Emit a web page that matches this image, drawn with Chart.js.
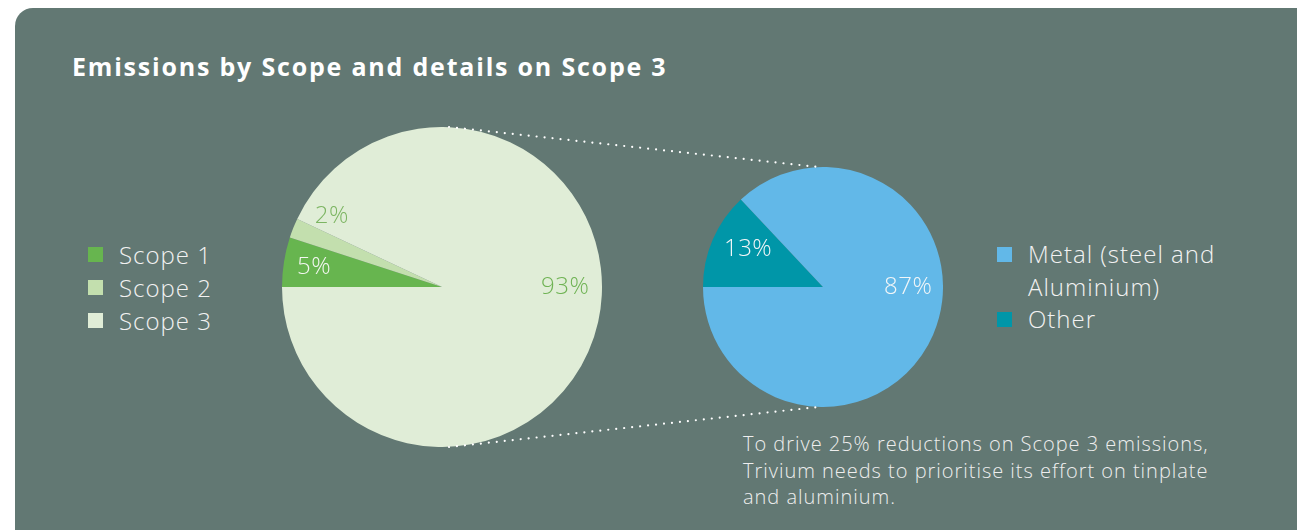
<!DOCTYPE html>
<html>
<head>
<meta charset="utf-8">
<script src="https://cdn.jsdelivr.net/npm/chart.js@4.4.1/dist/chart.umd.min.js"></script>
<style>
  html, body { margin:0; padding:0; background:#ffffff; width:1297px; height:530px; overflow:hidden; }
  #panel { position:absolute; left:15px; top:8px; width:1300px; height:540px; background:#627873; border-radius:18px; }
  #title { position:absolute; left:72px; top:49px; color:#ffffff; font-family:"Open Sans", sans-serif; font-weight:700; font-size:25px; letter-spacing:1.8px; white-space:nowrap; }
  .legend { position:absolute; font-family:"Open Sans", sans-serif; font-weight:300; font-size:24px; letter-spacing:1px; color:#f2f2f2; white-space:nowrap; }
  .legend .item { position:relative; padding-left:31px; line-height:33px; }
  #legR .item { line-height:32.5px; }
  .legend .sw { position:absolute; left:0; top:9px; width:15px; height:15px; }
  #note { position:absolute; left:743px; top:431px; font-family:"Open Sans", sans-serif; font-weight:300; font-size:20px; letter-spacing:0.98px; line-height:26.5px; color:#eeeeee; white-space:nowrap; }
  canvas { position:absolute; }
</style>
</head>
<body>
<div id="panel"></div>
<div id="title">Emissions by Scope and details on Scope 3</div>
<div class="legend" id="legL" style="left:88px; top:238px;"></div>
<div class="legend" id="legR" style="left:997px; top:238px;"></div>
<div id="note">To drive 25% reductions on Scope 3 emissions,<br>Trivium needs to prioritise its effort on tinplate<br>and aluminium.</div>
<canvas id="pieL" style="left:282px; top:127px;" width="320" height="320"></canvas>
<canvas id="pieR" style="left:703px; top:167px;" width="240" height="240"></canvas>
<canvas id="overlay" style="left:0; top:0; pointer-events:none;" width="1297" height="530"></canvas>
<script>
// ---- data ----
const scopeLabels = ["Scope 1", "Scope 2", "Scope 3"];
const scopeValues = [5, 2, 93];
const scope3Labels = ["Other", "Metal (steel and Aluminium)"];
const scope3Values = [13, 87];
const legendRightLabels = [["Metal (steel and", "Aluminium)"], ["Other"]];

// ---- styles ----
const scopeColors = ["#67b54f", "#c3dfae", "#e0edd7"];
const scope3Colors = ["#0096a8", "#62b8e8"];

const sliceLabels = {
  id: 'sliceLabels',
  afterDatasetsDraw(chart, args, opts) {
    const meta = chart.getDatasetMeta(0);
    const ctx = chart.ctx;
    const vals = chart.data.datasets[0].data;
    ctx.save();
    ctx.textAlign = 'center';
    ctx.textBaseline = 'middle';
    ctx.font = opts.font;
    if ('letterSpacing' in ctx) ctx.letterSpacing = '0.5px';
    meta.data.forEach((arc, i) => {
      const p = arc.getProps(['x', 'y', 'startAngle', 'endAngle', 'outerRadius'], true);
      const pl = opts.place[i];
      const a = pl.angle == null ? (p.startAngle + p.endAngle) / 2 : pl.angle * Math.PI / 180;
      const r = p.outerRadius * pl.r;
      ctx.fillStyle = pl.color;
      ctx.fillText(vals[i] + '%', p.x + Math.cos(a) * r, p.y + Math.sin(a) * r);
    });
    ctx.restore();
  }
};

function pie(id, labels, values, colors, place) {
  return new Chart(document.getElementById(id), {
    type: 'pie',
    data: { labels, datasets: [{ data: values, backgroundColor: colors, borderWidth: 0 }] },
    options: {
      responsive: false, animation: false, rotation: 270,
      layout: { padding: 0 },
      plugins: {
        legend: { display: false }, tooltip: { enabled: false },
        sliceLabels: { font: '300 24px "Open Sans", sans-serif', place }
      }
    },
    plugins: [sliceLabels]
  });
}

const left = pie('pieL', scopeLabels, scopeValues, scopeColors, [
  { angle: null, r: 0.81, color: '#f4f7f2' },
  { angle: 212.8, r: 0.82, color: '#7cb562' },
  { angle: 360, r: 0.77, color: '#6fb354' }
]);
const right = pie('pieR', scope3Labels, scope3Values, scope3Colors, [
  { angle: 206.9, r: 0.70, color: '#f2f6f8' },
  { angle: 360, r: 0.71, color: '#f2f6f8' }
]);

// legends
function legend(el, items) {
  const box = document.getElementById(el);
  items.forEach(it => {
    const d = document.createElement('div');
    d.className = 'item';
    d.innerHTML = '<span class="sw" style="background:' + it.color + '"></span>' + it.lines.join('<br>');
    box.appendChild(d);
  });
}
legend('legL', scopeLabels.map((l, i) => ({ lines: [l], color: scopeColors[i] })));
legend('legR', [
  { lines: legendRightLabels[0], color: scope3Colors[1] },
  { lines: legendRightLabels[1], color: scope3Colors[0] }
]);

// dotted connectors between the two pies
function geo(chart, canvasId) {
  const a = chart.getDatasetMeta(0).data[0];
  const c = document.getElementById(canvasId);
  return { x: a.x + c.offsetLeft, y: a.y + c.offsetTop, r: a.outerRadius };
}
const gL = geo(left, 'pieL'), gR = geo(right, 'pieR');
const oc = document.getElementById('overlay').getContext('2d');
oc.strokeStyle = '#ffffff';
oc.lineWidth = 2.2;
oc.lineCap = 'round';
oc.setLineDash([0.01, 8]);
[-1, 1].forEach(s => {
  oc.beginPath();
  oc.moveTo(gL.x + 7, gL.y + s * gL.r);
  oc.lineTo(gR.x - 5, gR.y + s * gR.r);
  oc.stroke();
});
</script>
</body>
</html>
